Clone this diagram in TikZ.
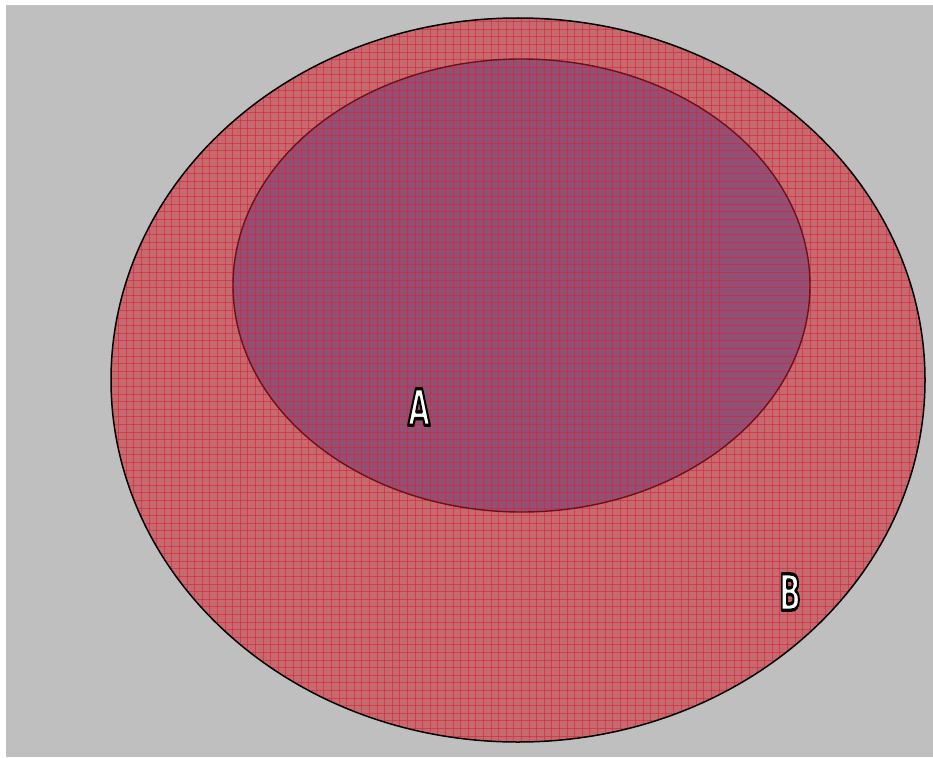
\documentclass[tikz,border=0pt]{standalone}
\usepackage{fontspec}
\newfontfamily\lblfont{DejaVu Sans}
\definecolor{bggrey}{RGB}{191,191,191}
\definecolor{outerfill}{RGB}{198,106,112}
\definecolor{innerfill}{RGB}{148,80,116}
\definecolor{gridred}{RGB}{215,35,55}
\definecolor{inneredge}{RGB}{110,15,25}
\tikzset{
  gridlines/.style={draw=gridred, line width=0.7pt, opacity=0.6},
  setlabel/.style={font=\lblfont\bfseries\fontsize{50}{50}\selectfont, xscale=0.57, inner sep=0pt, text=white},
}
\newcommand{\strokedtext}[1]{\special{pdf:literal direct 2 Tr 3.4 w 1 j 0 G}#1\special{pdf:literal direct 0 Tr}}
\begin{document}
\begin{tikzpicture}[x=1pt,y=-1pt]
\useasboundingbox (0,0) rectangle (933,757);
\fill[bggrey] (6,5) rectangle (933,757);
% outer ellipse B
\fill[outerfill] (518,380) ellipse [x radius=407, y radius=362];
\begin{scope}
  \clip (518,380) ellipse [x radius=407, y radius=362];
  \foreach \i in {0,...,120}{
    \draw[gridlines] (111+\i*7.6,0) -- (111+\i*7.6,757);
    \draw[gridlines] (0,14+\i*7.6) -- (933,14+\i*7.6);
  }
\end{scope}
% inner ellipse A
\fill[innerfill] (521.5,285.5) ellipse [x radius=288.5, y radius=226.5];
\begin{scope}
  \clip (521.5,285.5) ellipse [x radius=288.5, y radius=226.5];
  \foreach \i in {0,...,80}{
    \draw[gridlines] (111+\i*7.6,0) -- (111+\i*7.6,757);
    \draw[gridlines] (0,14+\i*7.6) -- (933,14+\i*7.6);
  }
\end{scope}
\draw[inneredge, line width=1.4pt] (521.5,285.5) ellipse [x radius=288.5, y radius=226.5];
\draw[black, line width=1.5pt] (518,380) ellipse [x radius=407, y radius=362];
\node[setlabel] (labA) at (419,407) {\strokedtext{A}};
\node[setlabel] (labB) at (790,592) {\strokedtext{B}};
\end{tikzpicture}
\end{document}
